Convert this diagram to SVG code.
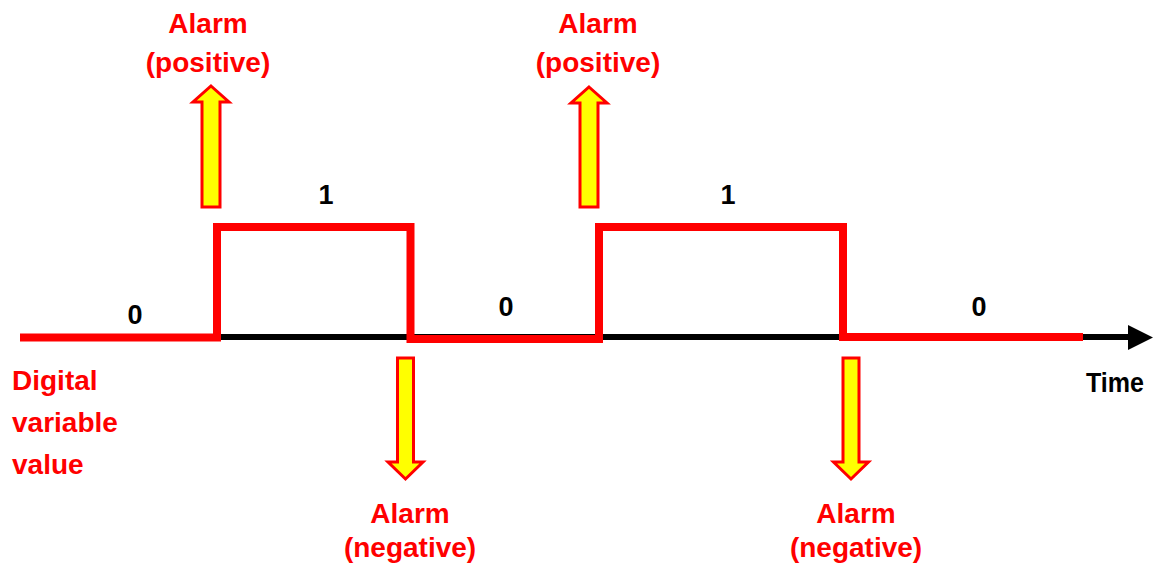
<svg xmlns="http://www.w3.org/2000/svg" width="1156" height="576" viewBox="0 0 1156 576">
<style>
.lbl{font-family:"Liberation Sans",Arial,sans-serif;font-weight:bold;font-size:28px;fill:#ff0000;text-anchor:middle}
.val{font-family:"Liberation Sans",Arial,sans-serif;font-weight:bold;font-size:27px;fill:#000;text-anchor:middle}
.arr{fill:#ffff00;stroke:#ff0000;stroke-width:3;stroke-linejoin:miter}
</style>
<rect width="1156" height="576" fill="#fff"/>
<g id="connectors">
<line x1="215" y1="337" x2="1130" y2="337" stroke="#000" stroke-width="6"/>
<polygon points="1128,325 1153,337.5 1128,350" fill="#000"/>
<path d="M20,337.5 H217 V227 H410.5 V339 H599 V227 H843 V337 H1083" fill="none" stroke="#ff0000" stroke-width="8" stroke-linejoin="miter"/>
</g>
<g id="up-arrow-1"><polygon class="arr" points="211,86 229,102 220,102 220,207 202,207 202,102 193,102"/></g>
<g id="up-arrow-2"><polygon class="arr" points="589,87 607,103 598,103 598,207 580,207 580,103 571,103"/></g>
<g id="down-arrow-1"><polygon class="arr" points="397.5,358 413.5,358 413.5,462 423,462 405.5,479 388,462 397.5,462"/></g>
<g id="down-arrow-2"><polygon class="arr" points="843,358 859,358 859,462 868.5,462 851,479 833.5,462 843,462"/></g>
<g id="alarm-pos-1"><text class="lbl" x="208" y="33">Alarm</text><text class="lbl" x="208" y="72">(positive)</text></g>
<g id="alarm-pos-2"><text class="lbl" x="598" y="33">Alarm</text><text class="lbl" x="598" y="72">(positive)</text></g>
<g id="alarm-neg-1"><text class="lbl" x="410" y="523">Alarm</text><text class="lbl" x="410" y="557">(negative)</text></g>
<g id="alarm-neg-2"><text class="lbl" x="856" y="523">Alarm</text><text class="lbl" x="856" y="557">(negative)</text></g>
<g id="values">
<text class="val" x="135" y="324">0</text>
<text class="val" x="326" y="204">1</text>
<text class="val" x="506" y="316">0</text>
<text class="val" x="728" y="204">1</text>
<text class="val" x="979" y="316">0</text>
</g>
<g id="y-label">
<text class="lbl" x="12" y="390" style="text-anchor:start">Digital</text>
<text class="lbl" x="12" y="432" style="text-anchor:start">variable</text>
<text class="lbl" x="12" y="474" style="text-anchor:start">value</text>
</g>
<g id="x-label"><text x="1115" y="392" style="font-family:'Liberation Sans',Arial,sans-serif;font-weight:bold;font-size:28px;fill:#000;text-anchor:middle" textLength="58" lengthAdjust="spacingAndGlyphs">Time</text></g>
</svg>
